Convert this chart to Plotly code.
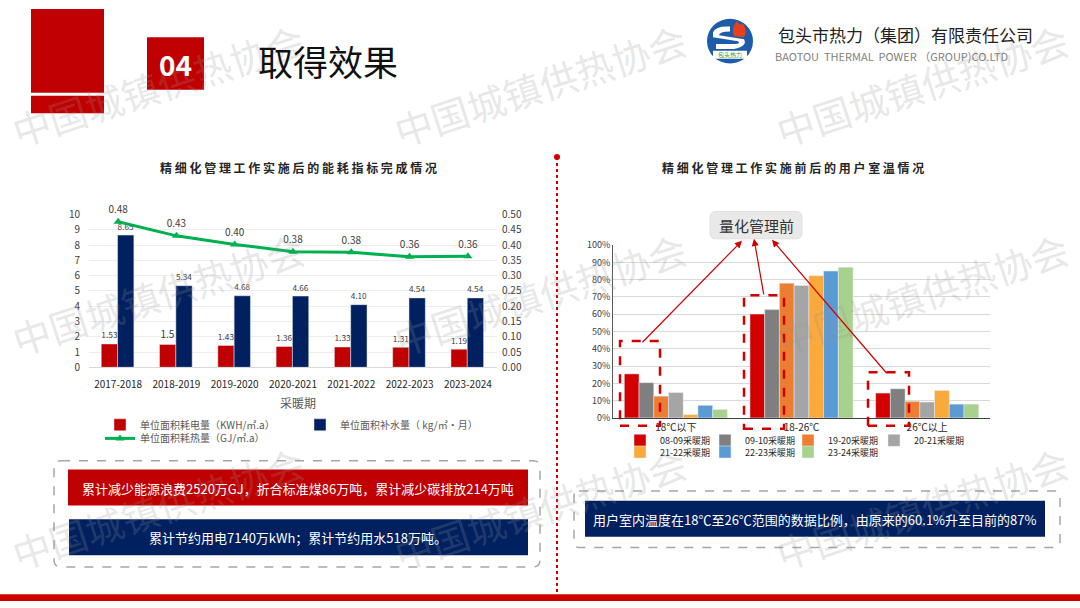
import plotly.graph_objects as go

W, H = 1080, 608
FONT = "Noto Sans CJK SC, Noto Sans, sans-serif"
RED = "#C00000"
NAVY = "#002060"

# left chart data
seasons = ["2017-2018", "2018-2019", "2019-2020", "2020-2021", "2021-2022", "2022-2023", "2023-2024"]
power = [1.53, 1.5, 1.43, 1.36, 1.33, 1.31, 1.19]
water = [8.65, 5.34, 4.68, 4.66, 4.10, 4.54, 4.54]
heat = [0.476, 0.43, 0.402, 0.378, 0.376, 0.362, 0.363]

# right chart data
bands = ["18℃以下", "18-26℃", "26℃以上"]
periods = ["08-09采暖期", "09-10采暖期", "19-20采暖期", "20-21采暖期",
           "21-22采暖期", "22-23采暖期", "23-24采暖期"]
share_0809 = [0.255, 0.601, 0.144]
share_0910 = [0.204, 0.627, 0.169]
share_1920 = [0.126, 0.780, 0.096]
share_2021 = [0.147, 0.767, 0.092]
share_2122 = [0.019, 0.823, 0.159]
share_2223 = [0.073, 0.850, 0.080]
share_2324 = [0.049, 0.872, 0.080]
shares = [share_0809, share_0910, share_1920, share_2021, share_2122, share_2223, share_2324]
period_colors = ["#D40000", "#7F7F7F", "#ED7D31", "#A5A5A5", "#FBA93B", "#5B9BD5", "#A9D18E"]


def X(p):
    return p / W


def Y(p):
    return 1 - p / H


fig = go.Figure()

fig.add_trace(go.Bar(
    x=seasons, y=power, name="单位面积耗电量（KWH/㎡.a）",
    marker_color=RED, width=0.28, offset=-0.29,
    text=[str(v) for v in power], textposition="outside",
    textfont=dict(size=10, color="#404040"), cliponaxis=False,
    xaxis="x", yaxis="y", legend="legend",
))
fig.add_trace(go.Bar(
    x=seasons, y=water, name="单位面积补水量（ kg/㎡·月）",
    marker_color=NAVY, width=0.28, offset=-0.01,
    texttemplate="%{y:.2f}", textposition="outside",
    textfont=dict(size=10, color="#404040"), cliponaxis=False,
    xaxis="x", yaxis="y", legend="legend2",
))
fig.add_trace(go.Scatter(
    x=seasons, y=heat, name="单位面积耗热量（GJ/㎡.a）",
    mode="lines+markers+text",
    line=dict(color="#00B050", width=3),
    marker=dict(symbol="triangle-up", size=8, color="#00B050"),
    texttemplate="%{y:.2f}", textposition="top center",
    textfont=dict(size=10, color="#404040"), cliponaxis=False,
    xaxis="x", yaxis="y2", legend="legend3",
))

for i, (name, vals) in enumerate(zip(periods, shares)):
    fig.add_trace(go.Bar(
        x=bands, y=vals, name=name, marker_color=period_colors[i],
        xaxis="x3", yaxis="y3", legend=f"legend{i + 4}",
    ))

tick = dict(family=FONT, size=10, color="#404040")
fig.update_layout(
    width=W, height=H, margin=dict(l=0, r=0, t=0, b=0),
    paper_bgcolor="white", plot_bgcolor="rgba(0,0,0,0)",
    font=dict(family=FONT, color="#404040"), showlegend=True,
    barmode="group", bargap=0.18, bargroupgap=0,
    xaxis=dict(domain=[X(89), X(497)], anchor="y", type="category",
               tickfont=dict(family=FONT, size=10, color="#262626"), ticklabelstandoff=8,
               showline=True, linecolor="#D9D9D9", ticks=""),
    yaxis=dict(domain=[Y(368), Y(211)], range=[0, 10], dtick=1, tickfont=tick,
               ticklabelstandoff=8, gridcolor="#EDEDED", zeroline=False, anchor="x"),
    yaxis2=dict(overlaying="y", side="right", range=[0, 0.5], dtick=0.05,
                tickformat=".2f", tickfont=tick, ticklabelstandoff=4,
                showgrid=False, zeroline=False, anchor="x"),
    xaxis3=dict(domain=[X(613), X(990)], anchor="y3", type="category",
                tickfont=dict(family=FONT, size=10, color="#262626"), ticklabelstandoff=0,
                showline=True, linecolor="#404040", ticks=""),
    yaxis3=dict(domain=[Y(420), Y(242.5)], range=[0, 1], dtick=0.1, tickformat=".0%",
                tickfont=dict(family=FONT, size=9, color="#404040"),
                gridcolor="#D9D9D9", zeroline=False, showline=True, linecolor="#595959",
                anchor="x3"),
)

# one legend per entry so each sits where the reference puts it
legend_spots = [(100, 427, 10, "#595959"), (300, 427, 10, "#595959"), (100, 441, 10, "#595959"),
                (620, 443, 9, "#262626"), (705, 443, 9, "#262626"),
                (788, 443, 9, "#262626"), (874, 443, 9, "#262626"),
                (620, 455, 9, "#262626"), (705, 455, 9, "#262626"),
                (788, 455, 9, "#262626")]
legends = {}
for k, (lx, ly, fs, fc) in enumerate(legend_spots):
    key = "legend" if k == 0 else f"legend{k + 1}"
    legends[key] = dict(orientation="h", x=X(lx), y=Y(ly), xanchor="left", yanchor="middle",
                        font=dict(family=FONT, size=fs, color=fc),
                        bgcolor="rgba(0,0,0,0)", borderwidth=0)
fig.update_layout(**legends)

shapes = []


def rect(x0, y0, x1, y1, fill, line=None, dash=None, lw=0):
    shapes.append(dict(type="rect", xref="paper", yref="paper",
                       x0=X(x0), x1=X(x1), y0=Y(y1), y1=Y(y0),
                       fillcolor=fill, layer="below",
                       line=dict(color=line or "rgba(0,0,0,0)", width=lw, dash=dash)))


def rrect(x0, y0, x1, y1, r, fill="rgba(0,0,0,0)", line="#A6A6A6", dash="dash", lw=1.5):
    pts = [
        f"M{X(x0 + r)},{Y(y0)}", f"L{X(x1 - r)},{Y(y0)}",
        f"Q{X(x1)},{Y(y0)} {X(x1)},{Y(y0 + r)}", f"L{X(x1)},{Y(y1 - r)}",
        f"Q{X(x1)},{Y(y1)} {X(x1 - r)},{Y(y1)}", f"L{X(x0 + r)},{Y(y1)}",
        f"Q{X(x0)},{Y(y1)} {X(x0)},{Y(y1 - r)}", f"L{X(x0)},{Y(y0 + r)}",
        f"Q{X(x0)},{Y(y0)} {X(x0 + r)},{Y(y0)}", "Z",
    ]
    shapes.append(dict(type="path", xref="paper", yref="paper", path=" ".join(pts),
                       fillcolor=fill, layer="below",
                       line=dict(color=line, width=lw, dash=dash)))


# header
rect(31, 0, 104, 86, RED)
rect(31, 89, 104, 107, RED)
rect(147, 29, 204, 83, RED)
# logo
shapes.append(dict(type="circle", xref="paper", yref="paper", x0=X(707), x1=X(753),
                   y0=Y(56), y1=Y(10), fillcolor="#1E5BA8", line=dict(width=0)))
shapes.append(dict(type="path", xref="paper", yref="paper",
                   path=f"M{X(713)},{Y(24)} Q{X(716)},{Y(17)} {X(730)},{Y(18)} L{X(730)},{Y(23)} "
                        f"Q{X(719)},{Y(23)} {X(719)},{Y(27)} L{X(744)},{Y(31)} Q{X(748)},{Y(38)} "
                        f"{X(734)},{Y(41)} L{X(716)},{Y(41)} L{X(716)},{Y(36)} L{X(736)},{Y(36)} "
                        f"Q{X(741)},{Y(35)} {X(738)},{Y(33)} L{X(713)},{Y(29)} Z",
                   fillcolor="white", line=dict(width=0)))
shapes.append(dict(type="path", xref="paper", yref="paper",
                   path=f"M{X(734)},{Y(28)} Q{X(731)},{Y(20)} {X(737)},{Y(12)} "
                        f"Q{X(740)},{Y(18)} {X(743)},{Y(15)} Q{X(748)},{Y(24)} {X(744)},{Y(29)} Z",
                   fillcolor="#E8401C", line=dict(width=0)))
shapes.append(dict(type="rect", xref="paper", yref="paper", x0=X(713), x1=X(747),
                   y0=Y(51), y1=Y(43), fillcolor="white", line=dict(width=0)))
# divider
shapes.append(dict(type="line", xref="paper", yref="paper", x0=X(557), x1=X(557),
                   y0=Y(152), y1=Y(600), line=dict(color="#D00000", width=2, dash="dot")))
shapes.append(dict(type="circle", xref="paper", yref="paper", x0=X(554), x1=X(560),
                   y0=Y(155), y1=Y(149), fillcolor="#D00000", line=dict(width=0)))
# bottom strip
rect(0, 601, 1080, 608, "#CC0000")
# text boxes
rrect(54, 464, 540, 573, 7)
rect(68, 473, 528, 510, RED)
rect(69, 524, 528, 561, NAVY)
rrect(574, 495, 1060, 553, 5)
rect(585, 505, 1045, 542, NAVY)
# callout label
rrect(710, 208, 802, 236, 6, fill="#E9E9E9", line="#E0E0E0", dash="solid", lw=1)
# red dashed highlight boxes
for bx in [(620, 341, 660, 428), (744, 294, 784, 431), (868, 373, 909, 428)]:
    shapes.append(dict(type="rect", xref="paper", yref="paper",
                       x0=X(bx[0]), x1=X(bx[2]), y0=Y(bx[3]), y1=Y(bx[1]),
                       line=dict(color="#D00000", width=2.5, dash="dash")))

fig.update_layout(shapes=shapes)

ann = []


def text(x, y, s, size, color="#262626", xanchor="center", **kw):
    ann.append(dict(x=X(x), y=Y(y), xref="paper", yref="paper", text=s, showarrow=False,
                    xanchor=xanchor, yanchor="middle",
                    font=dict(family=FONT, size=size, color=color), **kw))


# watermarks
for cx in [158, 540, 922]:
    for cy in [78, 292, 512]:
        text(cx, cy, "中国城镇供热协会", 38, "rgba(150,150,150,0.24)", textangle=-18)

text(175, 56, "<b>04</b>", 28, "white")
text(256, 53, "取得效果", 35, "#111111", xanchor="left")
text(730, 47, "包头热力", 6, "#2E9E3E")
text(776, 26, "包头市热力（集团）有限责任公司", 17, "#222222", xanchor="left")
text(773, 48, "BAOTOU  THERMAL  POWER （GROUP)CO.LTD", 11, "#7F7F7F", xanchor="left")

text(298, 163, "<b>" + " ".join("精细化管理工作实施后的能耗指标完成情况") + "</b>", 12, "#262626")
text(793, 163, "<b>" + " ".join("精细化管理工作实施前后的用户室温情况") + "</b>", 12, "#262626")
text(298, 404, "采暖期", 12, "#595959")
text(756, 222, "量化管理前", 15, "#333333")

text(298, 492, "累计减少能源浪费2520万GJ，折合标准煤86万吨，累计减少碳排放214万吨", 13, "white")
text(298, 543, "累计节约用电7140万kWh；累计节约用水518万吨。", 13, "white")
text(815, 524, "用户室内温度在18℃至26℃范围的数据比例，由原来的60.1%升至目前的87%", 13, "white")

# arrows from highlight boxes to the callout
for (hx, hy, tx, ty) in [(742, 238, 641, 341), (754, 236, 764, 293), (772, 237, 888, 372)]:
    ann.append(dict(x=X(hx), y=Y(hy), xref="paper", yref="paper", ax=tx - hx, ay=ty - hy,
                    axref="pixel", ayref="pixel", showarrow=True, arrowhead=2, arrowsize=1.2,
                    arrowwidth=1.2, arrowcolor="#D00000", text=""))

fig.update_layout(annotations=ann)

fig.write_html("out.html", config={"displayModeBar": False},
               post_script="document.body.style.margin='0';"
                           "document.body.style.overflow='hidden';")
